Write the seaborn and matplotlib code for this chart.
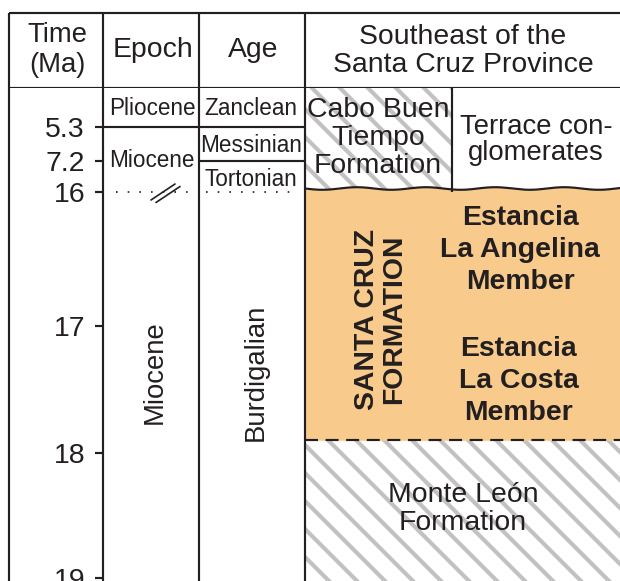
import numpy as np
import matplotlib
matplotlib.use('Agg')
import matplotlib.pyplot as plt
import seaborn as sns

# --- data: time scale and units (ages in Ma) ---
time_ticks = [5.3, 7.2, 16, 17, 18, 19]
tick_labels = ['5.3', '7.2', '16', '17', '18', '19']

epochs = ['Pliocene', 'Miocene']
pliocene_base = 5.3

stages = ['Zanclean', 'Messinian', 'Tortonian', 'Burdigalian']
stage_bounds = [5.3, 7.2, 16.0]

upper_units = ['Cabo Buen\nTiempo\nFormation', 'Terrace con-\nglomerates']
santa_cruz_top = 16.0
santa_cruz_base = 17.9
santa_cruz_name = 'SANTA CRUZ\nFORMATION'
members = ['Estancia\nLa Angelina\nMember', 'Estancia\nLa Costa\nMember']
lower_unit = 'Monte León\nFormation'

# --- broken time axis: Ma -> vertical position (pixels from top) ---
knot_ma = [4.0, 5.3, 7.2, 16, 17, 18, 19, 20]
knot_px = [88, 127, 161, 192, 326, 453, 578, 703]


def to_px(ma):
    return np.interp(ma, knot_ma, knot_px)


def to_ma(px):
    return np.interp(px, knot_px, knot_ma)


def mid(a, b, shift=0):
    return to_ma((to_px(a) + to_px(b)) / 2 + shift)


DPI = 168
k = 120 / DPI  # sizes below are tuned for 120 dpi

sns.set_style('white')
plt.rcParams['font.family'] = ['Liberation Sans', 'DejaVu Sans']
plt.rcParams['hatch.linewidth'] = 2.5 * k

ink = '#231f20'
orange = '#f8cb8c'
hatch_grey = '#c2c2c2'
lw = 1.3 * k

fig = plt.figure(figsize=(620 / DPI, 581 / DPI), dpi=DPI)

# header row
hx = fig.add_axes([0, 1 - 88 / 581, 1, 88 / 581])
hx.set_xlim(0, 620)
hx.set_ylim(88, 0)
hx.axis('off')
hx.hlines([12.5, 88], 9, 620, color=ink, lw=lw, clip_on=False)
hx.vlines([9, 103, 199, 305], 12.5, 88, color=ink, lw=lw)
hx.text(57, 50, 'Time\n(Ma)', ha='center', va='center', fontsize=16.5 * k, color=ink, linespacing=1.2)
hx.text(153, 50, 'Epoch', ha='center', va='center', fontsize=17 * k, color=ink)
hx.text(253, 50, 'Age', ha='center', va='center', fontsize=17 * k, color=ink)
hx.text(463, 51, 'Southeast of the\nSanta Cruz Province', ha='center', va='center',
        fontsize=17 * k, color=ink, linespacing=1.15)

# body
ax = fig.add_axes([0, 0, 1, 493 / 581])
ax.set_yscale('function', functions=(to_px, to_ma))
ma_top, ma_bot = to_ma(88), to_ma(581)
ax.set_ylim(ma_bot, ma_top)
ax.set_xlim(0, 620)

# hatched formations
ax.bar((305 + 452) / 2, santa_cruz_top - ma_top, bottom=ma_top, width=147,
       facecolor='white', edgecolor=hatch_grey, lw=0, hatch='\\\\')
ax.bar((305 + 640) / 2, ma_bot + 1 - santa_cruz_base, bottom=santa_cruz_base, width=335,
       facecolor='white', edgecolor=hatch_grey, lw=0, hatch='\\\\')
ax.vlines(452, ma_top, santa_cruz_top, color=ink, lw=lw)

# Santa Cruz Formation with unconformable (wavy) top
xs = np.linspace(305, 620, 300)
wave = to_ma(to_px(santa_cruz_top) - 3.5 + 1.3 * np.sin((xs - 305) / 11))
ax.fill_between(xs, wave, santa_cruz_base, color=orange, lw=0)
ax.plot(xs, wave, color=ink, lw=lw)
ax.hlines(santa_cruz_base, 305, 620, color=ink, lw=lw, linestyles=(0, (6, 3.5)))

# column lines
ax.vlines([9, 199, 305], ma_bot, ma_top, color=ink, lw=lw)
ax.hlines(pliocene_base, 103, 199, color=ink, lw=lw)
ax.hlines(stage_bounds[:2], 199, 305, color=ink, lw=lw)
ax.hlines(stage_bounds[2], 116, 192, color=ink, lw=1.0 * k, linestyles=(0, (1, 6)))
ax.hlines(stage_bounds[2], 206, 298, color=ink, lw=1.0 * k, linestyles=(0, (1, 6)))
for dx in (0, 5):
    ax.plot([151 + dx, 175 + dx], to_ma(np.array([200, 184]) + dx * 0.5), color=ink, lw=1.0 * k)

# time axis
for s in ['top', 'right', 'bottom']:
    ax.spines[s].set_visible(False)
ax.spines['left'].set_position(('data', 103))
ax.spines['left'].set_color(ink)
ax.spines['left'].set_linewidth(lw)
ax.set_xticks([])
ax.set_yticks(time_ticks, tick_labels)
ax.yaxis.set_minor_locator(matplotlib.ticker.NullLocator())
ax.tick_params(axis='y', direction='out', length=4.8 * k, width=lw, pad=6 * k,
               labelsize=17 * k, colors=ink, left=True)

# epoch and stage labels
ax.text(152, mid(ma_top, pliocene_base, 1), epochs[0], ha='center', va='center', fontsize=13.5 * k, color=ink)
ax.text(152, mid(pliocene_base, 16, 1), epochs[1], ha='center', va='center', fontsize=13.5 * k, color=ink)
ax.text(155, to_ma(372), epochs[1], ha='center', va='center', rotation=90, fontsize=16.5 * k, color=ink)
bounds = [ma_top] + stage_bounds
for name, a, b, sh in zip(stages[:3], bounds[:-1], bounds[1:], [1, 1.5, 3]):
    ax.text(251, mid(a, b, sh), name, ha='center', va='center', fontsize=13.5 * k, color=ink)
ax.text(256, to_ma(372), stages[3], ha='center', va='center', rotation=90, fontsize=16.5 * k, color=ink)

# lithostratigraphy labels
ax.text(378, mid(ma_top, santa_cruz_top, -2), upper_units[0], ha='center', va='center',
        fontsize=17 * k, color=ink, linespacing=1.12)
ax.text(536, mid(ma_top, santa_cruz_top), upper_units[1], ha='center', va='center',
        fontsize=16.5 * k, color=ink, linespacing=1.05)
ax.text(381, mid(santa_cruz_top, santa_cruz_base, 3), santa_cruz_name, ha='center', va='center',
        rotation=90, fontsize=17 * k, fontweight='bold', color=ink, linespacing=1.05)
ax.text(520, to_ma(250), members[0], ha='center', va='center', fontsize=17 * k,
        fontweight='bold', color=ink, linespacing=1.3)
ax.text(519, to_ma(381), members[1], ha='center', va='center', fontsize=17 * k,
        fontweight='bold', color=ink, linespacing=1.3)
ax.text(463, to_ma(509), lower_unit, ha='center', va='center', fontsize=17 * k,
        color=ink, linespacing=1.05)

fig.savefig('out.png', dpi=DPI)
